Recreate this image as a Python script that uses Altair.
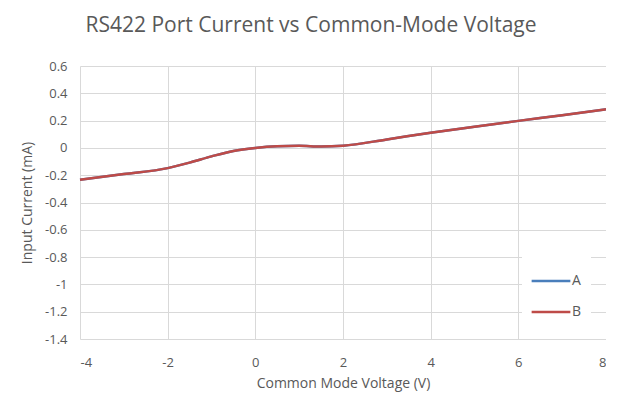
import altair as alt
import pandas as pd

voltage = [-4, -3, -2, -1.5, -1, -0.5, 0, 0.5, 1, 1.5, 2, 3, 4, 5, 6, 7, 8]
current_a = [-0.234, -0.192, -0.148, -0.108, -0.062, -0.022, 0.0, 0.012, 0.015, 0.010, 0.016, 0.062, 0.111, 0.155, 0.198, 0.240, 0.283]
current_b = [-0.234, -0.192, -0.148, -0.108, -0.062, -0.022, 0.0, 0.012, 0.015, 0.010, 0.016, 0.062, 0.111, 0.155, 0.198, 0.240, 0.283]
series_names = ["A", "B"]
series_colors = ["#4A7EBB", "#BE4B48"]
x_ticks = [-4, -2, 0, 2, 4, 6, 8]

rows = []
for v, a in zip(voltage, current_a):
    rows.append({"v": v, "i": a, "s": "A"})
for v, b in zip(voltage, current_b):
    rows.append({"v": v, "i": b, "s": "B"})
df = pd.DataFrame(rows)

FONT = "Open Sans"
GRAY = "#595959"

chart = alt.Chart(df).mark_line(strokeWidth=2.5, interpolate="monotone").encode(
    x=alt.X("v:Q", scale=alt.Scale(domain=[-4, 8], nice=False),
            axis=alt.Axis(values=x_ticks, title="Common Mode Voltage (V)", grid=True,
                          labelExpr="'' + datum.value",
                          labelPadding=17, titlePadding=7)),
    y=alt.Y("i:Q", scale=alt.Scale(domain=[-1.4, 0.6], nice=False),
            axis=alt.Axis(tickCount=10, title="Input Current (mA)", grid=True,
                          labelExpr="'' + round(datum.value*10)/10",
                          labelPadding=13, titlePadding=10)),
    color=alt.Color("s:N", scale=alt.Scale(domain=series_names, range=series_colors),
                    legend=alt.Legend(title=None, orient="none", legendX=442, legendY=186,
                                      symbolType="stroke", symbolSize=1500, symbolStrokeWidth=2.5,
                                      fillColor="white", padding=8, labelOffset=0,
                                      rowPadding=3)),
    order=alt.Order("s:N"),
).properties(
    width=526,
    height=273,
    title=alt.TitleParams("RS422 Port Current vs Common-Mode Voltage", anchor="middle", dx=-32,
                          offset=24, fontSize=21, font=FONT, color=GRAY, fontWeight="normal"),
    autosize=alt.AutoSizeParams(type="none"),
    padding={"left": 72, "top": 58, "right": 0, "bottom": 60},
).configure_axis(
    domain=False, ticks=False, gridColor="#d9d9d9", gridWidth=1,
    labelFont=FONT, labelFontSize=13, labelColor=GRAY,
    titleFont=FONT, titleFontSize=14, titleColor=GRAY, titleFontWeight="normal",
).configure_legend(
    labelFont=FONT, labelFontSize=14, labelColor=GRAY, strokeColor="white",
).configure_view(stroke=None)

chart.save("out.html", embed_options={"renderer": "svg", "actions": False})
